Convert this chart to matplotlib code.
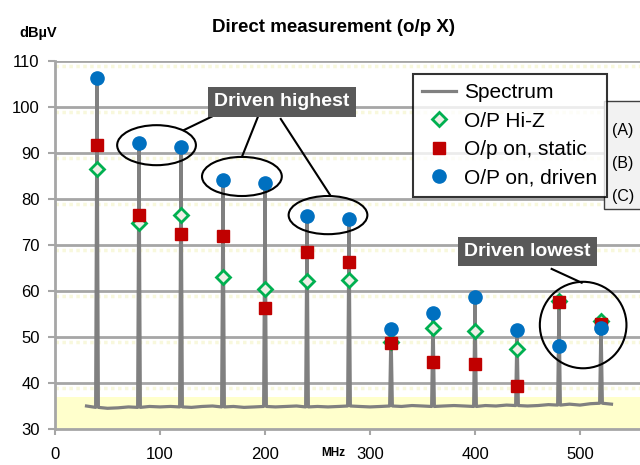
import matplotlib
matplotlib.use("Agg")
import matplotlib.pyplot as plt
from matplotlib.patches import Ellipse, Rectangle

plt.rcParams['font.family'] = ['Liberation Sans', 'DejaVu Sans']

# harmonic frequencies (MHz)
freqs = [40, 80, 120, 160, 200, 240, 280, 320, 360, 400, 440, 480, 520]
# O/P Hi-Z (A)
hiz = [86.5, 74.8, 76.5, 63.0, 60.5, 62.2, 62.4, 48.9, 52.0, 51.3, 47.4, 57.8, 53.5]
# O/p on, static (B)
static = [91.8, 76.5, 72.4, 71.9, 56.4, 68.4, 66.2, 48.6, 44.6, 44.1, 39.3, 57.5, 52.9]
# O/P on, driven (C)
driven = [106.4, 92.2, 91.2, 84.1, 83.5, 76.3, 75.6, 51.7, 55.3, 58.6, 51.5, 48.1, 52.0]
# spectrum peak levels at each harmonic
spec_peak = [106.4, 92.2, 91.2, 84.1, 83.5, 76.3, 75.6, 51.7, 55.3, 58.6, 51.5, 57.6, 53.5]
# spectrum noise floor, 30..530 MHz every 10 MHz
floor_f = list(range(30, 531, 10))
floor_v = [35.0, 34.7, 34.5, 34.6, 34.8, 34.7, 34.9, 34.8, 34.9, 34.8,
           34.7, 34.9, 35.0, 34.8, 34.9, 34.7, 34.8, 34.9, 34.8, 34.9,
           35.0, 34.8, 34.9, 34.8, 34.9, 35.0, 34.9, 34.8, 34.9, 35.0,
           34.9, 35.1, 35.0, 34.9, 35.0, 35.1, 35.0, 34.9, 35.1, 35.0,
           35.2, 35.1, 35.0, 35.1, 35.3, 35.2, 35.4, 35.2, 35.5, 35.6, 35.4]

# build spectrum trace: floor with narrow spikes at the harmonics
peaks = dict(zip(freqs, spec_peak))
sx, sy = [], []
for f, v in zip(floor_f, floor_v):
    if f in peaks:
        sx += [f - 1.3, f, f + 1.3]
        sy += [v, peaks[f], v]
    else:
        sx.append(f)
        sy.append(v)

grid_col = '#A6A6A6'

fig = plt.figure(figsize=(6.4, 4.65), dpi=100)
ax = fig.add_axes([55 / 640, 36 / 465, 630 / 640, 368 / 465])
ax.set_xlim(0, 600)
ax.set_ylim(30, 110)

# pale yellow band at the bottom and faint dotted texture under gridlines
ax.axhspan(30, 37, color='#FFFFCC', zorder=0, lw=0)
for g in range(40, 111, 10):
    ax.axhline(g - 1.0, color='#F8F8DC', lw=2.5, ls=(0, (1, 1)), zorder=0.5)
for g in range(40, 111, 10):
    ax.axhline(g, color=grid_col, lw=2, zorder=1)

ax.plot(sx, sy, color='#808080', lw=2.3, zorder=2, label='Spectrum')
ax.plot(freqs, hiz, ls='none', marker='D', ms=7.5, mfc='#EEEEE6', mec='#00B050',
        mew=2, zorder=3, label='O/P Hi-Z')
ax.plot(freqs, static, ls='none', marker='s', ms=8.5, mfc='#C00000', mec='#C00000',
        zorder=4, label='O/p on, static')
ax.plot(freqs, driven, ls='none', marker='o', ms=9.5, mfc='#0070C0', mec='#0070C0',
        zorder=5, label='O/P on, driven')

for s in ['top', 'right']:
    ax.spines[s].set_visible(False)
for s in ['left', 'bottom']:
    ax.spines[s].set_color(grid_col)
    ax.spines[s].set_linewidth(2)
ax.set_xticks(range(0, 601, 100))
ax.set_xticklabels(['0', '100', '200', '300', '400', '500', ''])
ax.set_yticks(range(30, 111, 10))
ax.tick_params(axis='x', length=4, width=1.5, color=grid_col, pad=9, labelsize=12)
ax.tick_params(axis='y', length=5, width=1.5, color=grid_col, pad=6, labelsize=12)

# annotations
ann = dict(color='black', lw=1.5, clip_on=False, zorder=6)
for cx, cy, w, h in [(96.7, 91.7, 75, 8.7), (178, 84.9, 76, 8.5),
                     (260, 76.5, 75, 8.3), (503, 52.6, 82.5, 18.8)]:
    ax.add_patch(Ellipse((cx, cy), w, h, fill=False, ec='black', lw=1.5, zorder=6))
ax.plot([149.2, 122.9], [97.9, 95.0], **ann)
ax.plot([193.3, 178.1], [97.9, 89.2], **ann)
ax.plot([215, 261.9], [97.4, 80.9], **ann)
ax.plot([473, 501.6], [64.8, 61.8], **ann)
box = dict(boxstyle='square,pad=0.32', fc='#595959', ec='none')
ax.text(216, 101.1, 'Driven highest', color='white', fontsize=14, fontweight='bold',
        ha='center', va='center', bbox=box, zorder=7)
ax.text(450, 68.6, 'Driven lowest', color='white', fontsize=14, fontweight='bold',
        ha='center', va='center', bbox=box, zorder=7)

# side box with (A)(B)(C)
fig.patches.append(Rectangle((604 / 640, 1 - 209 / 465), 50 / 640, 108 / 465,
                             transform=fig.transFigure, fc='#F2F2F2', ec='#404040',
                             lw=1, zorder=8))
for lab, py in [('(A)', 131), ('(B)', 163), ('(C)', 196)]:
    fig.text(623 / 640, 1 - py / 465, lab, fontsize=11.5, ha='center', va='center',
             zorder=9)

leg = fig.legend(loc='upper left', bbox_to_anchor=(413 / 640, 1 - 74 / 465),
                 fontsize=15, frameon=True, fancybox=False, borderaxespad=0,
                 handlelength=1.6, handletextpad=0.4, labelspacing=0.45,
                 borderpad=0.45)
leg.get_frame().set_edgecolor('black')
leg.get_frame().set_linewidth(1.5)
leg.set_zorder(10)

fig.text(334 / 640, 1 - 27 / 465, 'Direct measurement (o/p X)', fontsize=13.5,
         fontweight='bold', ha='center', va='center')
fig.text(38 / 640, 1 - 33 / 465, 'dBµV', fontsize=10.5, fontweight='bold',
         ha='center', va='center')
fig.text(333 / 640, 1 - 453 / 465, 'MHz', fontsize=8.5, fontweight='bold',
         ha='center', va='center')

fig.savefig('out.png', dpi=100)
